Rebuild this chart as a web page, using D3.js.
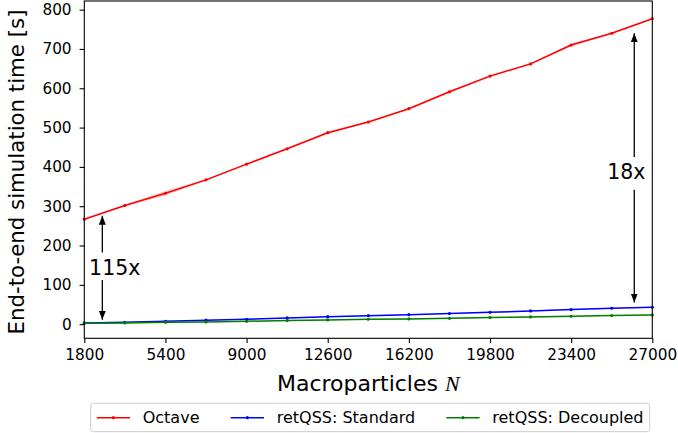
<!DOCTYPE html>
<html>
  <head>
    <style>
      body { margin: 0; padding: 0; background: #fff; }
      svg { display: block; font-family: "DejaVu Sans", sans-serif; }
    </style>
    <script src="https://unpkg.com/d3@7.8.5/dist/d3.min.js"></script>
  </head>
  <body>
    <svg width="678" height="433"></svg>
    <script>
      // data
      const particles = [1800, 3600, 5400, 7200, 9000, 10800, 12600, 14400, 16200, 18000, 19800, 21600, 23400, 25200, 27000];
      const octave = [267, 302, 333, 367, 407, 446, 487, 514, 548, 591, 631, 662, 710, 740, 777];
      const octaveErr = [2, 2, 6, 2, 2, 2, 3, 2, 2, 3, 3, 2, 4, 2, 2];
      const standard = [3, 4.7, 7.3, 10, 12.4, 15.8, 19, 21.6, 24, 27, 30, 33.6, 37, 40.4, 43];
      const standardErr = [1, 1, 1, 1, 1.5, 1, 1, 1.5, 1, 1, 1.5, 1, 1.5, 1.5, 1];
      const decoupled = [2, 3, 4.7, 5.6, 7.3, 9, 10.7, 12.4, 13.2, 14.9, 16.6, 18.3, 20, 21.7, 23.4];
      const decoupledErr = [1, 1, 1, 1, 1, 1, 1, 1, 1, 1, 1, 1, 1, 1, 1];
      const xTicks = [1800, 5400, 9000, 12600, 16200, 19800, 23400, 27000];
      const yTicks = [0, 100, 200, 300, 400, 500, 600, 700, 800];

      const seriesNames = ['Octave', 'retQSS: Standard', 'retQSS: Decoupled'];
      const seriesColors = ['#ff0000', '#0000ff', '#007f00'];

      // speedup annotations (data units): label position and arrows [from, to]
      const annotations = [
        { label: '115x', tx: 3150, x: 2600, y: 144, arrows: [[182, 276], [112, 11]] },
        { label: '18x', tx: 25850, x: 26200, y: 387, arrows: [[425, 740], [342, 55]] }
      ];

      const svg = d3.select('svg');
      const margin = { left: 84.3, right: 678 - 652.3, top: 1, bottom: 433 - 338.3 };
      const width = 678, height = 433;

      const x = d3.scaleLinear().domain([1800, 27000]).range([margin.left, width - margin.right]);
      const y = d3.scaleLinear().domain([-36, 822]).range([height - margin.bottom, margin.top]);

      const series = [
        { name: seriesNames[0], color: seriesColors[0], values: octave, err: octaveErr },
        { name: seriesNames[1], color: seriesColors[1], values: standard, err: standardErr },
        { name: seriesNames[2], color: seriesColors[2], values: decoupled, err: decoupledErr }
      ];

      const plot = svg.append('g');

      // bands
      const area = d3.area()
        .x((d) => x(d.x))
        .y0((d) => y(d.lo))
        .y1((d) => y(d.hi));
      series.forEach((s) => {
        const pts = particles.map((p, i) => ({ x: p, lo: s.values[i] - s.err[i], hi: s.values[i] + s.err[i] }));
        plot.append('path')
          .attr('d', area(pts))
          .attr('fill', s.color)
          .attr('fill-opacity', 0.2);
      });

      // lines and markers
      const line = d3.line()
        .x((d) => x(d[0]))
        .y((d) => y(d[1]));
      series.forEach((s) => {
        const pts = particles.map((p, i) => [p, s.values[i]]);
        plot.append('path')
          .attr('d', line(pts))
          .attr('fill', 'none')
          .attr('stroke', s.color)
          .attr('stroke-width', 1.5);
        plot.selectAll(null)
          .data(pts)
          .enter()
          .append('circle')
          .attr('cx', (d) => x(d[0]))
          .attr('cy', (d) => y(d[1]))
          .attr('r', 1.6)
          .attr('fill', s.color);
      });

      // arrow head
      svg.append('defs').append('marker')
        .attr('id', 'head')
        .attr('markerUnits', 'userSpaceOnUse')
        .attr('viewBox', '0 -4 9 8')
        .attr('refX', 9)
        .attr('refY', 0)
        .attr('markerWidth', 9)
        .attr('markerHeight', 8)
        .attr('orient', 'auto')
        .append('path')
        .attr('d', 'M0,-3.5L9,0L0,3.5Z')
        .attr('fill', '#000');

      annotations.forEach((a) => {
        a.arrows.forEach((ar) => {
          svg.append('line')
            .attr('x1', x(a.x)).attr('y1', y(ar[0]))
            .attr('x2', x(a.x)).attr('y2', y(ar[1]))
            .attr('stroke', '#000')
            .attr('stroke-width', 1.3)
            .attr('marker-end', 'url(#head)');
        });
        svg.append('text')
          .attr('x', x(a.tx))
          .attr('y', y(a.y))
          .attr('dy', '0.36em')
          .attr('text-anchor', 'middle')
          .attr('font-size', 20.5)
          .text(a.label);
      });

      // axes
      const xAxis = svg.append('g')
        .attr('transform', `translate(0,${height - margin.bottom})`)
        .call(d3.axisBottom(x).tickValues(xTicks).tickFormat(d3.format('d')).tickSizeOuter(0).tickSize(4.7).tickPadding(9.5));
      const yAxis = svg.append('g')
        .attr('transform', `translate(${margin.left},0)`)
        .call(d3.axisLeft(y).tickValues(yTicks).tickSizeOuter(0).tickSize(4.7).tickPadding(8));
      [xAxis, yAxis].forEach((g) => {
        g.select('.domain').remove();
        g.selectAll('.tick line').attr('stroke', '#000').attr('stroke-width', 1.1);
        g.selectAll('.tick text').attr('font-size', 15.3).attr('font-family', '"DejaVu Sans", sans-serif').attr('fill', '#000');
      });
      xAxis.selectAll('.tick text').attr('dy', '0.5em');

      // frame
      svg.append('rect')
        .attr('x', margin.left)
        .attr('y', margin.top)
        .attr('width', width - margin.left - margin.right)
        .attr('height', height - margin.top - margin.bottom)
        .attr('fill', 'none')
        .attr('stroke', '#000')
        .attr('stroke-width', 1.1);

      // axis labels
      const xLabel = svg.append('text')
        .attr('x', (margin.left + width - margin.right) / 2)
        .attr('y', 391)
        .attr('text-anchor', 'middle')
        .attr('font-size', 22);
      xLabel.append('tspan').text('Macroparticles ');
      xLabel.append('tspan')
        .attr('font-family', '"Liberation Serif", serif')
        .attr('font-style', 'italic')
        .text('N');

      svg.append('text')
        .attr('transform', `translate(16,172) rotate(-90)`)
        .attr('dy', '0.36em')
        .attr('text-anchor', 'middle')
        .attr('font-size', 21.3)
        .text('End-to-end simulation time [s]');

      // legend
      const legend = svg.append('g');
      legend.append('rect')
        .attr('x', 90.7).attr('y', 403.3)
        .attr('width', 559).attr('height', 28.4)
        .attr('rx', 3)
        .attr('fill', '#fff')
        .attr('stroke', '#ccc')
        .attr('stroke-width', 1);
      const legendX = [96.7, 230.7, 446.3];
      series.forEach((s, i) => {
        const g = legend.append('g').attr('transform', `translate(${legendX[i]},417.7)`);
        g.append('line').attr('x1', 0).attr('x2', 33.3).attr('stroke', s.color).attr('stroke-width', 1.5);
        g.append('circle').attr('cx', 16.7).attr('r', 1.6).attr('fill', s.color);
        g.append('text')
          .attr('x', 46)
          .attr('dy', '0.36em')
          .attr('font-size', 16)
          .text(s.name);
      });
    </script>
  </body>
</html>
